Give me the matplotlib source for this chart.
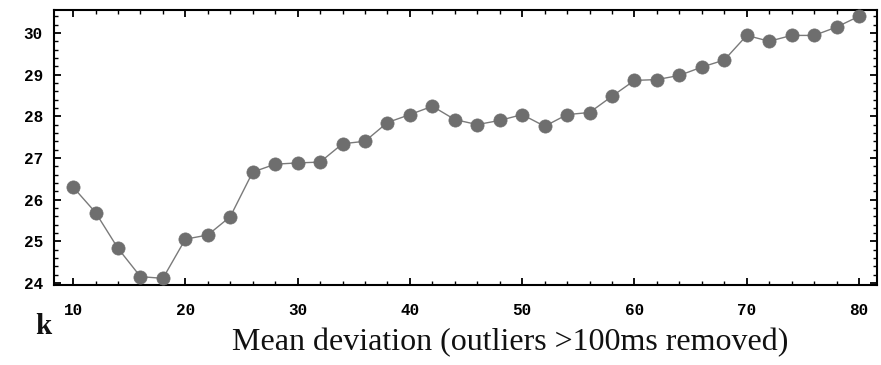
import matplotlib
matplotlib.use("Agg")
import matplotlib.pyplot as plt
from matplotlib.ticker import MultipleLocator

k_values = list(range(10, 82, 2))
mean_dev = [26.30, 25.69, 24.83, 24.15, 24.11, 25.05, 25.15, 25.59, 26.66, 26.85,
            26.88, 26.90, 27.34, 27.40, 27.85, 28.04, 28.24, 27.92, 27.80, 27.90,
            28.04, 27.76, 28.04, 28.09, 28.48, 28.86, 28.88, 28.98, 29.18, 29.35,
            29.94, 29.80, 29.94, 29.94, 30.14, 30.40]
x_ticks = [10, 20, 30, 40, 50, 60, 70, 80]
y_ticks = [24, 25, 26, 27, 28, 29, 30]
x_label = "Mean deviation (outliers >100ms removed)"
corner_label = "k"

fig = plt.figure(figsize=(8.81, 3.65), dpi=100)
ax = fig.add_axes([54/881, 80/365, 823/881, 275/365])

ax.plot(k_values, mean_dev, color="#7a7a7a", lw=1.0, marker="o",
        markersize=9.5, markerfacecolor="#6e6e6e", markeredgecolor="#6e6e6e",
        markeredgewidth=0.5, zorder=3, clip_on=False)

ax.set_xlim(8.3, 81.6)
ax.set_ylim(23.95, 30.55)
ax.set_xticks(x_ticks)
ax.set_yticks(y_ticks)
ax.xaxis.set_minor_locator(MultipleLocator(2))
ax.yaxis.set_minor_locator(MultipleLocator(0.2))

ax.tick_params(which="both", direction="in", top=True, right=True,
               labeltop=False, labelright=False, color="black")
ax.tick_params(which="major", length=5, width=1.3)
ax.tick_params(which="minor", length=3, width=1.0)
ax.tick_params(axis="x", which="major", pad=13)
ax.tick_params(axis="y", which="major", pad=8)

for lab in ax.get_xticklabels() + ax.get_yticklabels():
    lab.set_family("Liberation Mono")
    lab.set_fontweight("bold")
    lab.set_fontsize(11.5)

for sp in ax.spines.values():
    sp.set_linewidth(1.5)
    sp.set_color("black")

fig.text(510/881, (365-350)/365, x_label, ha="center", va="baseline",
         family="Liberation Serif", fontsize=23, color="#111111")
fig.text(35/881, (365-334)/365, corner_label, ha="left", va="baseline",
         family="Liberation Serif", fontweight="bold", fontsize=21, color="#111111")

fig.savefig("out.png", dpi=100)
